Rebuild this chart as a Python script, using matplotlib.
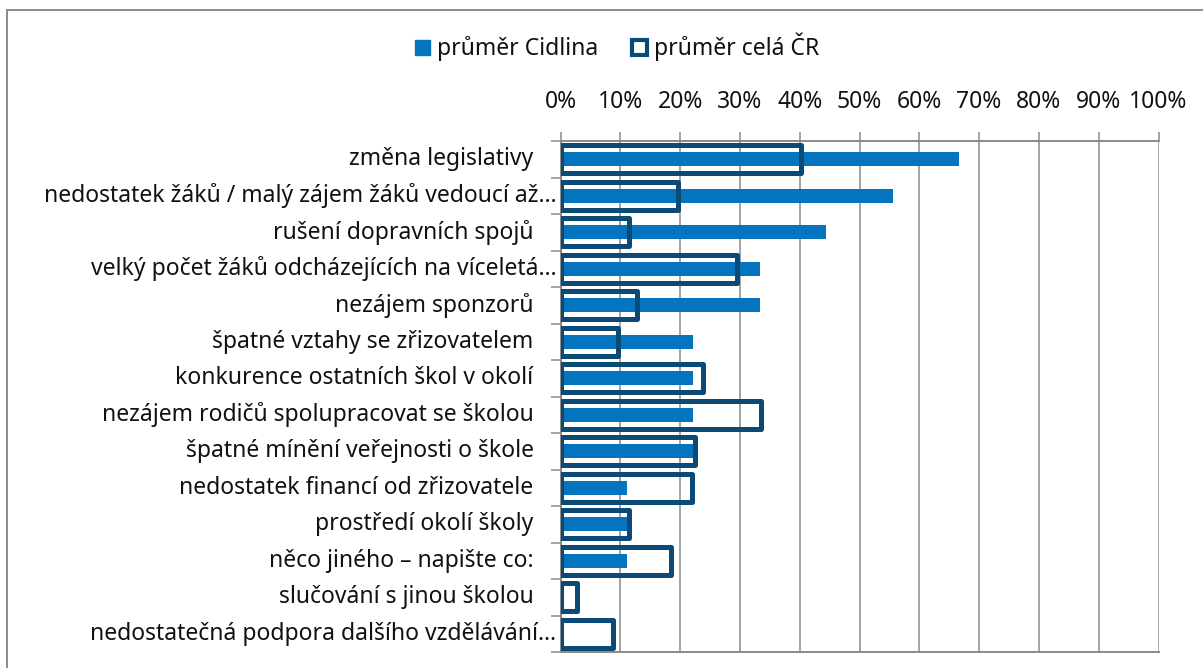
import matplotlib
matplotlib.use("Agg")
import matplotlib.pyplot as plt
import matplotlib.patches as mpatches
import matplotlib.transforms as mtransforms
import numpy as np

plt.rcParams['font.family'] = ['Noto Sans', 'DejaVu Sans']

categories = [
    "změna legislativy",
    "nedostatek žáků / malý zájem žáků vedoucí až…",
    "rušení dopravních spojů",
    "velký počet žáků odcházejících na víceletá…",
    "nezájem sponzorů",
    "špatné vztahy se zřizovatelem",
    "konkurence ostatních škol v okolí",
    "nezájem rodičů spolupracovat se školou",
    "špatné mínění veřejnosti o škole",
    "nedostatek financí od zřizovatele",
    "prostředí okolí školy",
    "něco jiného – napište co:",
    "slučování s jinou školou",
    "nedostatečná podpora dalšího vzdělávání…",
]
cidlina = [66.7, 55.6, 44.4, 33.3, 33.3, 22.2, 22.2, 22.2, 22.2, 11.1, 11.1, 11.1, 0.0, 0.0]
cela_cr = [40.2, 19.7, 11.5, 29.5, 12.8, 9.6, 23.8, 33.6, 22.5, 22.0, 11.5, 18.5, 2.7, 8.7]
x_ticks = list(range(0, 101, 10))
series_names = ["průměr Cidlina", "průměr celá ČR"]

FILL = "#0574BE"
EDGE = "#0B4A76"
GRID = "#8A8A8A"
FS = 16.5

W, H = 1203, 668
fig = plt.figure(figsize=(W / 100, H / 100), dpi=100)
ax = fig.add_axes([560.5 / W, 1 - 652 / H, (1158.5 - 560.5) / W, (652 - 141) / H])

y = np.arange(len(categories))
ax.barh(y, cidlina, height=0.39, color=FILL, zorder=3)
ax.barh(y, cela_cr, height=0.77, facecolor="none", edgecolor=EDGE,
        linewidth=3.6, joinstyle="round", zorder=4)

ax.set_xlim(0, 100)
ax.set_ylim(len(categories) - 0.5, -0.5)

# percentage axis along the top
ax.xaxis.tick_top()
ax.set_xticks(x_ticks)
ax.set_xticklabels([f"{v}%" for v in x_ticks], fontsize=FS, color="#111111")
ax.tick_params(axis="x", which="major", direction="out", length=6.5, width=1.1,
               color=GRID, pad=13)
ax.grid(axis="x", color=GRID, linewidth=1.1, zorder=0)

# category boundaries as ticks, names drawn beside them
ax.set_yticks(np.arange(-0.5, len(categories), 1.0))
ax.set_yticklabels([])
ax.tick_params(axis="y", direction="out", length=7, width=1.1, color=GRID)
label_tf = mtransforms.blended_transform_factory(ax.transAxes, ax.transData)
for yi, name in zip(y, categories):
    off = -4 if name.endswith("…") else -27
    tf = label_tf + mtransforms.ScaledTranslation(off / 100, 0, fig.dpi_scale_trans)
    ax.text(0, yi, name, transform=tf, ha="right", va="center", fontsize=FS,
            color="#111111")

for side in ("left", "top", "bottom"):
    ax.spines[side].set_color(GRID)
    ax.spines[side].set_linewidth(1.4)
ax.spines["right"].set_visible(False)
ax.set_axisbelow(True)

# legend
handles = [
    mpatches.Patch(facecolor=FILL, edgecolor=FILL, label=series_names[0]),
    mpatches.Patch(facecolor="white", edgecolor=EDGE, linewidth=3, label=series_names[1]),
]
fig.legend(handles=handles, loc="center", bbox_to_anchor=(617 / W, 1 - 47 / H),
           ncol=2, frameon=False, fontsize=FS, handlelength=0.65, handleheight=0.65,
           handletextpad=0.3, columnspacing=1.5, labelcolor="#111111")

# chart frame
fig.patches.append(mpatches.Rectangle((7 / W, -0.1), 1.2, 1.1 - 10 / H,
                                      transform=fig.transFigure, fill=False,
                                      edgecolor=GRID, linewidth=1.4))

fig.savefig("out.png", dpi=100)
